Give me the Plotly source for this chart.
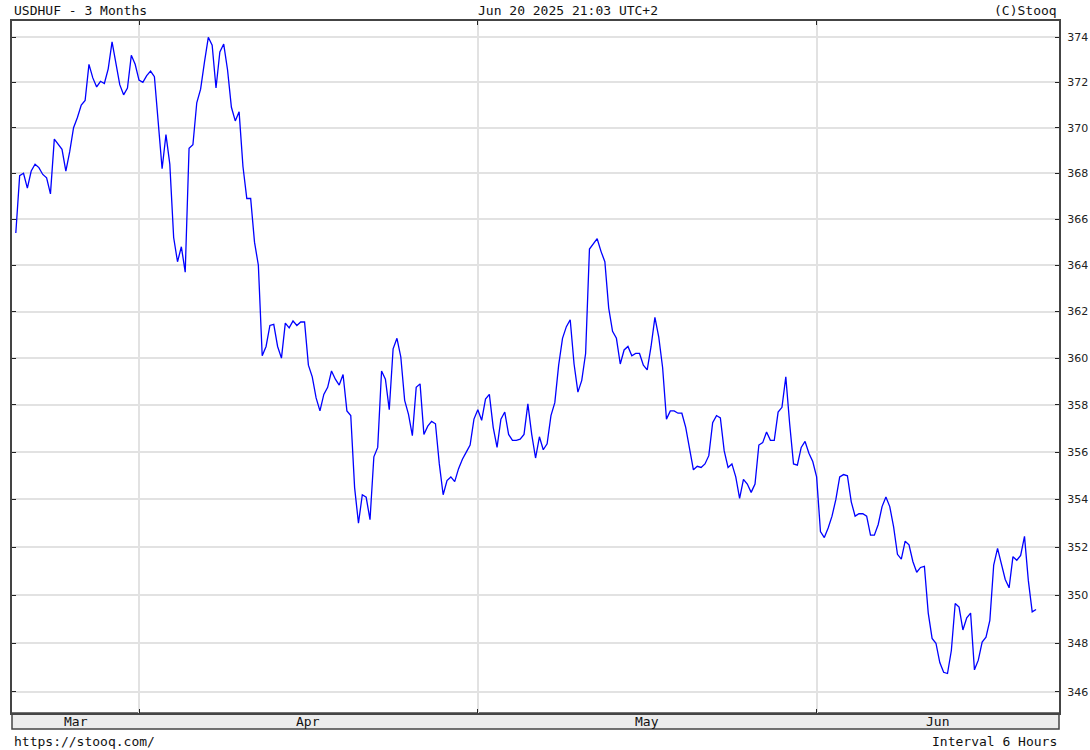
import math
import plotly.graph_objects as go

# ---- data (USDHUF, 6-hour bars) ----
mar_values = [365.4, 367.9, 368.0, 367.35, 368.1, 368.4, 368.25, 367.95, 367.8, 367.1,
              369.5, 369.25, 369.05, 368.1, 368.95, 370.0, 370.45, 371.0, 371.2, 372.8,
              372.2, 371.8, 372.05, 371.95, 372.6, 373.8, 372.9, 371.9, 371.45, 371.75,
              373.2, 372.8]
apr_values = [372.1, 372.0, 372.3, 372.5, 372.25, 370.4, 368.2, 369.7, 368.4, 365.2,
              364.15, 364.8, 363.7, 369.1, 369.25, 371.1, 371.7, 372.9, 374.0, 373.65,
              371.75, 373.35, 373.7, 372.55, 370.9, 370.3, 370.7, 368.3, 366.9, 366.9,
              365.0, 364.0, 360.1, 360.5, 361.4, 361.45, 360.5, 360.0, 361.5, 361.3,
              361.6, 361.4, 361.55, 361.55, 359.7, 359.2, 358.3, 357.75, 358.45, 358.75,
              359.45, 359.1, 358.85, 359.3, 357.75, 357.55, 354.5, 353.0, 354.2, 354.1,
              353.15, 355.8, 356.2, 359.45, 359.1, 357.8, 360.4, 360.85, 360.05, 358.2,
              357.6, 356.7, 358.75, 358.9, 356.75, 357.1, 357.3, 357.2, 355.5, 354.2,
              354.8, 354.95, 354.75, 355.3, 355.7, 356.0, 356.3, 357.4]
may_values = [357.8, 357.35, 358.25, 358.45, 357.05, 356.2, 357.4, 357.7, 356.75, 356.5,
              356.5, 356.55, 356.75, 358.05, 356.75, 355.75, 356.65, 356.1, 356.35, 357.55,
              358.1, 359.7, 360.85, 361.35, 361.65, 359.75, 358.55, 359.05, 360.2, 364.7,
              364.95, 365.15, 364.6, 364.15, 362.15, 361.15, 360.85, 359.75, 360.35, 360.5,
              360.1, 360.2, 360.2, 359.7, 359.5, 360.5, 361.75, 360.9, 359.6, 357.4,
              357.75, 357.75, 357.65, 357.65, 357.05, 356.15, 355.25, 355.4, 355.35, 355.5,
              355.85, 357.25, 357.55, 357.45, 356.05, 355.35, 355.5, 354.95, 354.05, 354.85,
              354.65, 354.3, 354.65, 356.3, 356.4, 356.85, 356.5, 356.5, 357.7, 357.9,
              359.2, 357.2, 355.5, 355.45, 356.2, 356.45, 355.95, 355.6]
jun_values = [354.95, 352.65, 352.4, 352.8, 353.3, 354.0, 354.95, 355.05, 355.0, 353.9,
              353.3, 353.4, 353.4, 353.3, 352.5, 352.5, 352.95, 353.7, 354.1, 353.7,
              352.85, 351.7, 351.5, 352.25, 352.1, 351.4, 350.95, 351.15, 351.2, 349.25,
              348.2, 348.0, 347.2, 346.8, 346.75, 347.7, 349.65, 349.5, 348.55, 349.05,
              349.25, 346.9, 347.3, 348.05, 348.25, 348.95, 351.25, 351.95, 351.3, 350.65,
              350.3, 351.6, 351.45, 351.65, 352.45, 350.6, 349.3, 349.4]

month_labels = ["Mar", "Apr", "May", "Jun"]
month_bars = [len(mar_values), len(apr_values), len(may_values), len(jun_values)]
y_ticks = list(range(346, 375, 2))

title_left = "USDHUF - 3 Months"
title_mid = "Jun 20 2025 21:03 UTC+2"
title_right = "(C)Stooq"
foot_left = "https://stooq.com/"
foot_right = "Interval 6 Hours"

# ---- build ----
values = mar_values + apr_values + may_values + jun_values
x = list(range(len(values)))

starts = [0]
for n in month_bars[:-1]:
    starts.append(starts[-1] + n)
boundaries = starts[1:]

x_range = [-0.99, 270.96]
y_range = [math.log10(345.125), math.log10(374.726)]

W, H = 1090, 750
ml, mr, mt, mb = 12, 31, 21, 37
ph = H - mt - mb

fig = go.Figure()
fig.add_trace(go.Scatter(x=x, y=values, mode="lines",
                         line=dict(color="#0000ff", width=1.3),
                         hoverinfo="skip", showlegend=False))
fig.add_trace(go.Scatter(x=x, y=values, mode="lines", yaxis="y2",
                         line=dict(color="rgba(0,0,0,0)", width=0),
                         hoverinfo="skip", showlegend=False))

mono = "DejaVu Sans Mono"

fig.update_layout(
    width=W, height=H,
    margin=dict(l=ml, r=mr, t=mt, b=mb, autoexpand=False),
    paper_bgcolor="white", plot_bgcolor="white",
    xaxis=dict(range=x_range, tickvals=boundaries, ticktext=["" for _ in boundaries],
               showgrid=True, gridcolor="#e2e2e2", gridwidth=2,
               ticks="inside", ticklen=4, tickwidth=1, tickcolor="#222",
               showline=True, linecolor="#444", linewidth=2, mirror="ticks",
               zeroline=False, automargin=False),
    yaxis=dict(type="log", range=y_range, side="right",
               tickvals=y_ticks, ticktext=[str(v) for v in y_ticks],
               showgrid=True, gridcolor="#e2e2e2", gridwidth=2,
               ticks="inside", ticklen=4, tickwidth=1, tickcolor="#222",
               showline=True, linecolor="#444", linewidth=2, mirror="ticks",
               tickfont=dict(family="DejaVu Sans", size=11, color="#222"),
               ticklabelstandoff=4,
               zeroline=False, automargin=False),
    yaxis2=dict(type="log", range=y_range, overlaying="y", side="left",
                tickvals=y_ticks, showticklabels=False, showgrid=False,
                ticks="inside", ticklen=4, tickwidth=1, tickcolor="#222",
                showline=False, zeroline=False, automargin=False),
)

# bottom month band
band_h = 16 / ph
fig.add_shape(type="rect", xref="paper", yref="paper", x0=0, x1=1, y0=-band_h, y1=0,
              fillcolor="#ececec", line=dict(color="#444", width=1.5), layer="below")

ends = boundaries + [x_range[1]]
begs = [x_range[0]] + boundaries
for lab, b, e in zip(month_labels, begs, ends):
    fig.add_annotation(x=(b + e) / 2, xref="x", y=-8 / ph, yref="paper",
                       text=lab, showarrow=False, yanchor="middle", xanchor="center",
                       font=dict(family=mono, size=13, color="#111"))

top_y = 1 + 11 / ph
bot_y = -28 / ph
fig.add_annotation(x=0, xref="paper", y=top_y, yref="paper", text=title_left,
                   showarrow=False, xanchor="left", yanchor="middle",
                   font=dict(family=mono, size=13, color="#111"))
fig.add_annotation(x=(568 - ml) / (W - ml - mr), xref="paper", y=top_y, yref="paper",
                   text=title_mid, showarrow=False, xanchor="center", yanchor="middle",
                   font=dict(family=mono, size=13, color="#111"))
fig.add_annotation(x=1, xref="paper", y=top_y, yref="paper", text=title_right,
                   showarrow=False, xanchor="right", yanchor="middle",
                   font=dict(family=mono, size=13, color="#111"))
fig.add_annotation(x=0, xref="paper", y=bot_y, yref="paper", text=foot_left,
                   showarrow=False, xanchor="left", yanchor="middle",
                   font=dict(family=mono, size=13, color="#111"))
fig.add_annotation(x=1, xref="paper", y=bot_y, yref="paper", text=foot_right,
                   showarrow=False, xanchor="right", yanchor="middle",
                   font=dict(family=mono, size=13, color="#111"))

fig.write_html("out.html", config={"displayModeBar": False},
               post_script="document.body.style.margin='0px';document.body.style.overflow='hidden';")
